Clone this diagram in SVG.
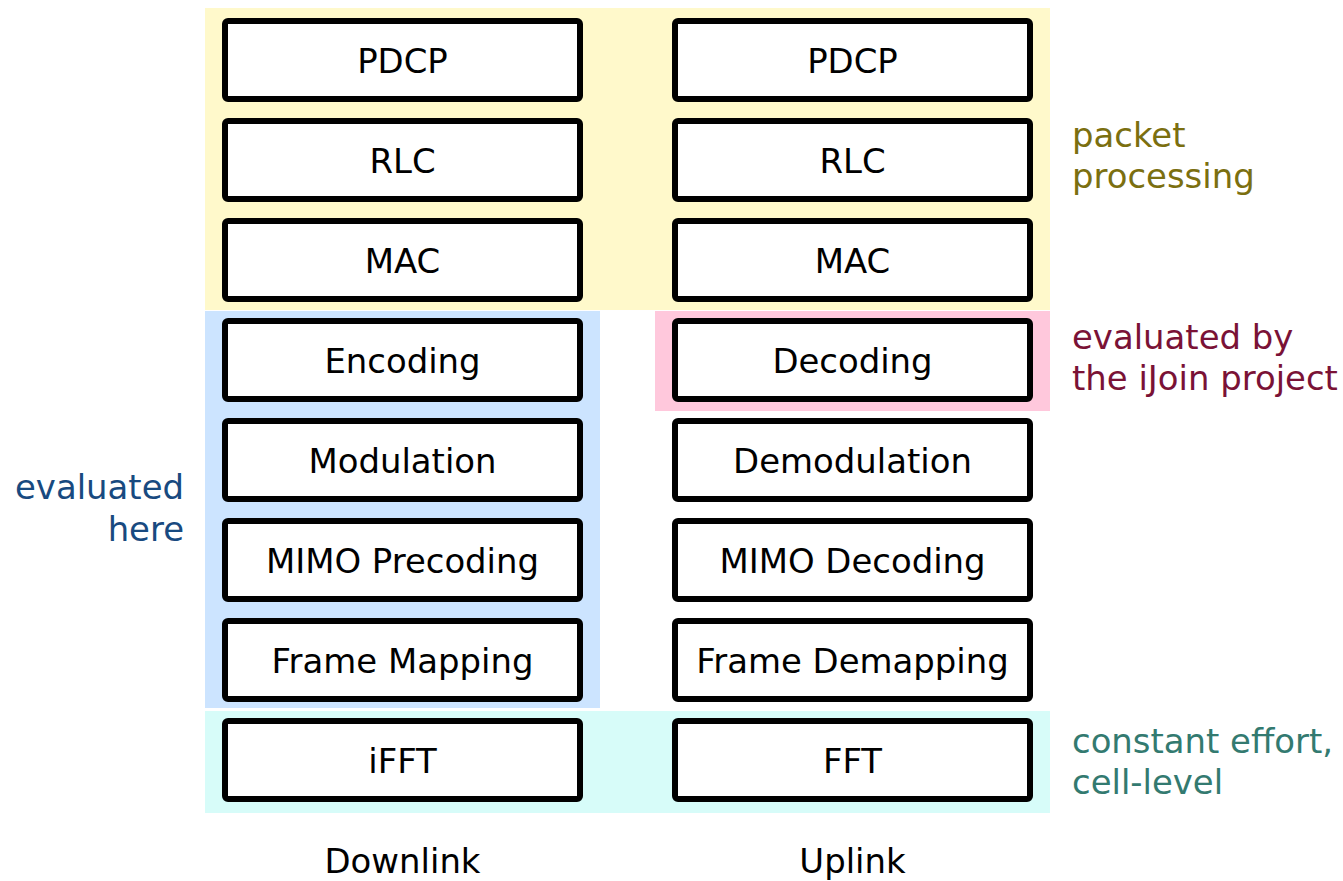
<svg xmlns="http://www.w3.org/2000/svg" width="1343" height="881" viewBox="0 0 1343 881">
<style>
text{font-family:"DejaVu Sans",Verdana,sans-serif;font-size:33.9px}
.box rect{fill:#fff;stroke:#000;stroke-width:6;rx:3}
.box text{text-anchor:middle;fill:#000}
.lbl{fill:#000;text-anchor:middle}
</style>
<g id="backgrounds">
<rect x="205" y="8" width="845" height="302" fill="#fff9cb"/>
<rect x="205" y="311" width="395" height="397" fill="#cce4ff"/>
<rect x="655" y="311" width="395" height="100" fill="#ffc8dc"/>
<rect x="205" y="711" width="845" height="102" fill="#d7fcf9"/>
</g>
<g id="connectors"></g>
<g id="dl-pdcp" class="box"><rect x="225" y="21" width="355" height="78"/><text x="402.5" y="72.5">PDCP</text></g>
<g id="dl-rlc" class="box"><rect x="225" y="121" width="355" height="78"/><text x="402.5" y="172.5">RLC</text></g>
<g id="dl-mac" class="box"><rect x="225" y="221" width="355" height="78"/><text x="402.5" y="272.5">MAC</text></g>
<g id="dl-enc" class="box"><rect x="225" y="321" width="355" height="78"/><text x="402.5" y="372.5">Encoding</text></g>
<g id="dl-mod" class="box"><rect x="225" y="421" width="355" height="78"/><text x="402.5" y="472.5">Modulation</text></g>
<g id="dl-mimo" class="box"><rect x="225" y="521" width="355" height="78"/><text x="402.5" y="572.5">MIMO Precoding</text></g>
<g id="dl-frame" class="box"><rect x="225" y="621" width="355" height="78"/><text x="402.5" y="672.5">Frame Mapping</text></g>
<g id="dl-ifft" class="box"><rect x="225" y="721" width="355" height="78"/><text x="402.5" y="772.5">iFFT</text></g>
<g id="ul-pdcp" class="box"><rect x="675" y="21" width="355" height="78"/><text x="852.5" y="72.5">PDCP</text></g>
<g id="ul-rlc" class="box"><rect x="675" y="121" width="355" height="78"/><text x="852.5" y="172.5">RLC</text></g>
<g id="ul-mac" class="box"><rect x="675" y="221" width="355" height="78"/><text x="852.5" y="272.5">MAC</text></g>
<g id="ul-dec" class="box"><rect x="675" y="321" width="355" height="78"/><text x="852.5" y="372.5">Decoding</text></g>
<g id="ul-demod" class="box"><rect x="675" y="421" width="355" height="78"/><text x="852.5" y="472.5">Demodulation</text></g>
<g id="ul-mimo" class="box"><rect x="675" y="521" width="355" height="78"/><text x="852.5" y="572.5">MIMO Decoding</text></g>
<g id="ul-frame" class="box"><rect x="675" y="621" width="355" height="78"/><text x="852.5" y="672.5">Frame Demapping</text></g>
<g id="ul-fft" class="box"><rect x="675" y="721" width="355" height="78"/><text x="852.5" y="772.5">FFT</text></g>
<g id="labels">
<text x="1072" y="146.5" fill="#7b6f10">packet</text>
<text x="1072" y="187.5" fill="#7b6f10">processing</text>
<text x="1072" y="348.5" fill="#7a1236">evaluated by</text>
<text x="1072" y="390" fill="#7a1236">the iJoin project</text>
<text x="184" y="499" fill="#184a80" text-anchor="end">evaluated</text>
<text x="184" y="541" fill="#184a80" text-anchor="end">here</text>
<text x="1072" y="753" fill="#337a70">constant effort,</text>
<text x="1072" y="794" fill="#337a70">cell-level</text>
<text class="lbl" x="402.5" y="873">Downlink</text>
<text class="lbl" x="852.5" y="873">Uplink</text>
</g>
</svg>
